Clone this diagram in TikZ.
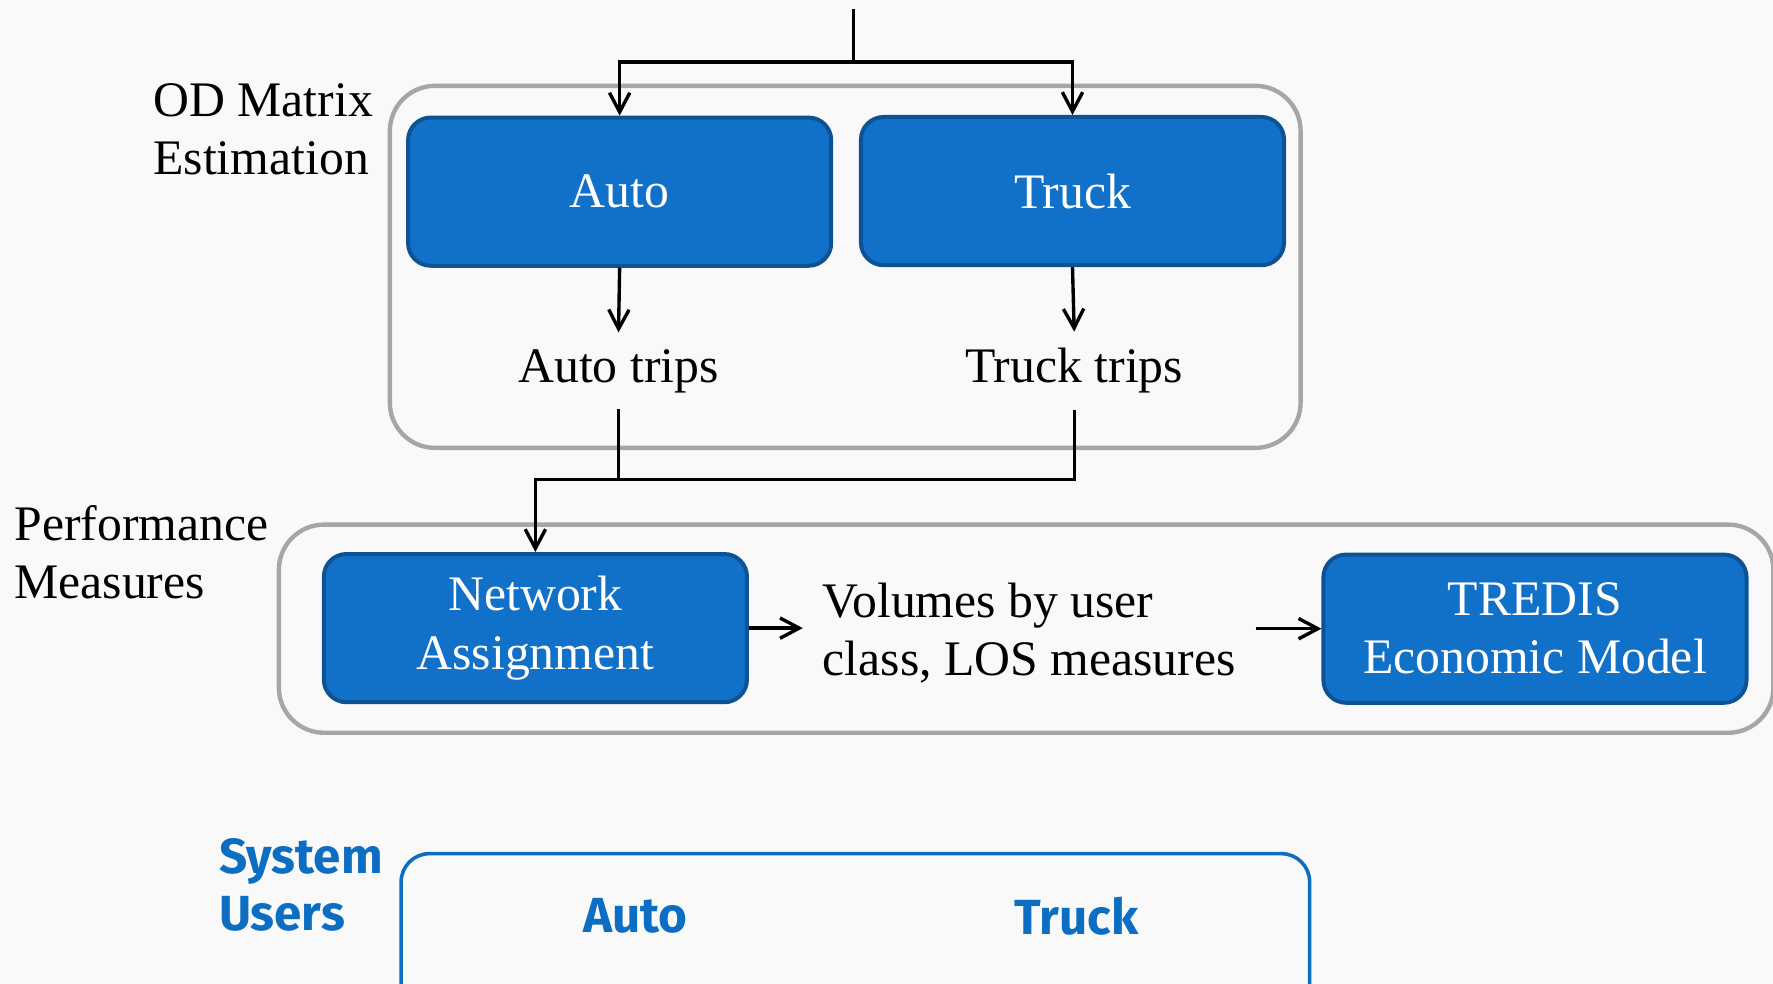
\documentclass[tikz,border=0pt]{standalone}
\usepackage{fontspec}
\setmainfont{Liberation Serif}
\newfontfamily\usersfont{Fira Sans}
\usetikzlibrary{arrows.meta}
\definecolor{boxblue}{RGB}{17,112,200}
\definecolor{boxedge}{RGB}{14,82,150}
\definecolor{groupgray}{RGB}{166,166,166}
\definecolor{usersblue}{RGB}{12,110,195}
\definecolor{pagebg}{RGB}{249,249,249}
\begin{document}
\begin{tikzpicture}[x=0.01cm, y=-0.01cm, font=\fontsize{12.5}{14.6}\selectfont,
    blue_box/.style={rectangle, rounded corners=0.2cm, fill=boxblue, draw=boxedge, line width=1pt, text=white, align=center, minimum width=3.74cm, minimum height=1.31cm},
    group_box/.style={rectangle, rounded corners=0.4cm, draw=groupgray, line width=1.1pt},
    trip_text/.style={inner ysep=4pt},
    side_text/.style={align=left, anchor=west, inner sep=0pt},
    users_text/.style={font=\usersfont\bfseries\fontsize{12.4}{14.3}\selectfont, text=usersblue},
    arr/.style={-{Straight Barb[length=1.7mm,width=1.8mm]}, line width=0.85pt}]
    \useasboundingbox (0,0) rectangle (1568,870);
    \fill[pagebg] (0,0) rectangle (1568,870);
    \node[group_box, minimum width=8.05cm, minimum height=3.2cm] (od_group) at (747.5,236) {};
    \node[group_box, minimum width=13.21cm, minimum height=1.84cm] (perf_group) at (907.5,556) {};
    \node[group_box, draw=usersblue, line width=0.9pt, rounded corners=0.25cm, minimum width=8.03cm, minimum height=1.6cm] (users_group) at (756.5,835) {};
    \node[side_text] (od_label) at (135,114.5) {OD Matrix\\Estimation};
    \node[side_text] (perf_label) at (12,488.5) {Performance\\Measures};
    \node[side_text, users_text] (users_label) at (193,782.5) {System\\Users};
    \node[blue_box] (auto) at (548,169.5) {Auto};
    \node[blue_box] (truck) at (948.5,169) {Truck};
    \node[trip_text] (auto_trips) at (547,328) {Auto trips};
    \node[trip_text] (truck_trips) at (950,328) {Truck trips};
    \node[blue_box] (net) at (473.5,555.5) {Network\\Assignment};
    \node[blue_box] (tredis) at (1357.5,556) {TREDIS\\Economic Model};
    \node[side_text, inner xsep=0.17cm] (volumes) at (710,559.7) {Volumes by user\\class, LOS measures};
    \node[users_text] (users_auto) at (562,810) {Auto};
    \node[users_text] (users_truck) at (952,810) {Truck};
    \coordinate (top_in) at (755,8);
    \coordinate (split) at (755,55);
    \coordinate (join) at (473.5,424);
    \draw[line width=0.85pt] (top_in) -- (split);
    \draw[arr] (split) -| (auto.north);
    \draw[arr] (split) -| (truck.north);
    \draw[arr] (auto.south) -- (auto_trips.north);
    \draw[arr] (truck.south) -- (truck_trips.north);
    \draw[arr] (auto_trips.south) |- (join) -- (net.north);
    \draw[line width=0.85pt] (truck_trips.south) |- (join);
    \draw[arr] (net.east) -- (net.east -| volumes.west);
    \draw[arr] (volumes.east |- tredis.west) -- (tredis.west);
\end{tikzpicture}
\end{document}
